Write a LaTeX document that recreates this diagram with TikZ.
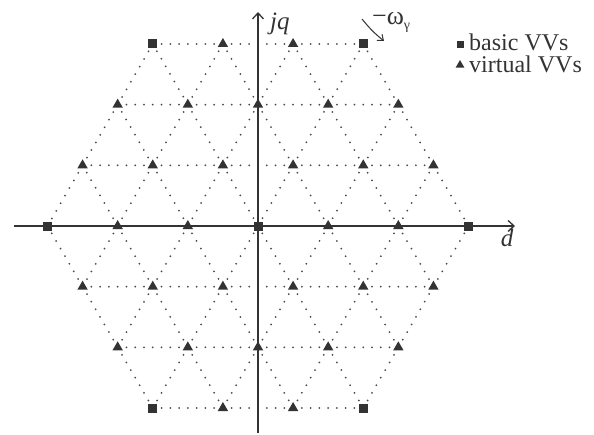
\documentclass[tikz,border=0pt]{standalone}
\usepackage{fontspec}
\setmainfont{Liberation Serif}
\usetikzlibrary{arrows.meta,shapes.geometric}
\definecolor{ink}{HTML}{333333}
\definecolor{dotc}{HTML}{4A4A4A}
\tikzset{
  lat/.style={draw=dotc, line width=2pt, dash pattern=on 0pt off 8.771pt, line cap=round},
  axisline/.style={draw=ink, line width=1.7pt, -{Straight Barb[length=6pt,width=11pt,line width=1.3pt]}},
  thinarrow/.style={draw=ink, line width=1pt, -{Straight Barb[length=5pt,width=8pt,line width=1pt]}},
  sqm/.style={rectangle, fill=ink, minimum size=9pt, inner sep=0pt},
  trim/.style={regular polygon, regular polygon sides=3, fill=ink, minimum size=12pt, inner sep=0pt},
  lbl/.style={font=\fontsize{24}{28}\selectfont, inner sep=0pt, text=ink},
}
\begin{document}
\begin{tikzpicture}[x=1pt,y=-1pt]
\useasboundingbox (0,0) rectangle (594,434);
% lattice coordinates
\foreach \a in {0,...,6}{\foreach \b in {0,...,6}{
  \pgfmathtruncatemacro\s{\a+\b}
  \ifnum\s>2 \ifnum\s<10
    \coordinate (p\a\b) at ({258+70.17*(\a-3+(\b-3)/2)},{226-60.67*(\b-3)});
  \fi\fi
}}
% dotted lattice lines
\foreach \b in {0,...,6}{
  \pgfmathtruncatemacro\lo{max(0,3-\b)}
  \pgfmathtruncatemacro\hi{min(6,9-\b)}
  \draw[lat] (p\lo\b) -- (p\hi\b);
}
\foreach \a in {0,...,6}{
  \pgfmathtruncatemacro\lo{max(0,3-\a)}
  \pgfmathtruncatemacro\hi{min(6,9-\a)}
  \draw[lat] (p\a\lo) -- (p\a\hi);
}
\foreach \s in {3,...,9}{
  \pgfmathtruncatemacro\blo{max(0,\s-6)}
  \pgfmathtruncatemacro\bhi{min(6,\s)}
  \pgfmathtruncatemacro\alo{\s-\blo}
  \pgfmathtruncatemacro\ahi{\s-\bhi}
  \draw[lat] (p\alo\blo) -- (p\ahi\bhi);
}
% axes
\coordinate (xl) at (14,226);
\coordinate (xr) at (515,226);
\coordinate (yb) at (258,433);
\coordinate (yt) at (258,12);
\draw[axisline] (xl) -- (xr);
\draw[axisline] (yb) -- (yt);
% markers
\foreach \a in {0,...,6}{\foreach \b in {0,...,6}{
  \pgfmathtruncatemacro\s{\a+\b}
  \pgfmathtruncatemacro\isq{and(mod(\a,3)==0,mod(\b,3)==0)}
  \ifnum\s>2 \ifnum\s<10
    \ifnum\isq=1
      \node[sqm] (m\a\b) at (p\a\b) {};
    \else
      \node[trim] (m\a\b) at (p\a\b) {};
    \fi
  \fi\fi
}}
% axis labels
\node[lbl, font=\fontsize{25}{29}\selectfont\itshape, anchor=base west] (jq) at (270,29) {jq};
\node[lbl, font=\fontsize{25}{29}\selectfont\itshape, anchor=base] (dl) at (507,246) {d};
% rotation label
\node[lbl, font=\fontsize{26}{30}\selectfont, anchor=base west] (om) at (372,24) {−ω\raisebox{-5pt}{\fontsize{14}{14}\selectfont γ}};
\coordinate (oa) at (362,19);
\coordinate (ob) at (384,41);
\draw[thinarrow] (oa) to[bend right=6] (ob);
% legend
\node[sqm, minimum size=7pt] (ls) at (460,44) {};
\node[lbl, anchor=base west] (lt1) at (469,50) {basic VVs};
\node[trim, minimum size=10pt] (lt) at (460,65) {};
\node[lbl, anchor=base west] (lt2) at (469,72) {virtual VVs};
\end{tikzpicture}
\end{document}
